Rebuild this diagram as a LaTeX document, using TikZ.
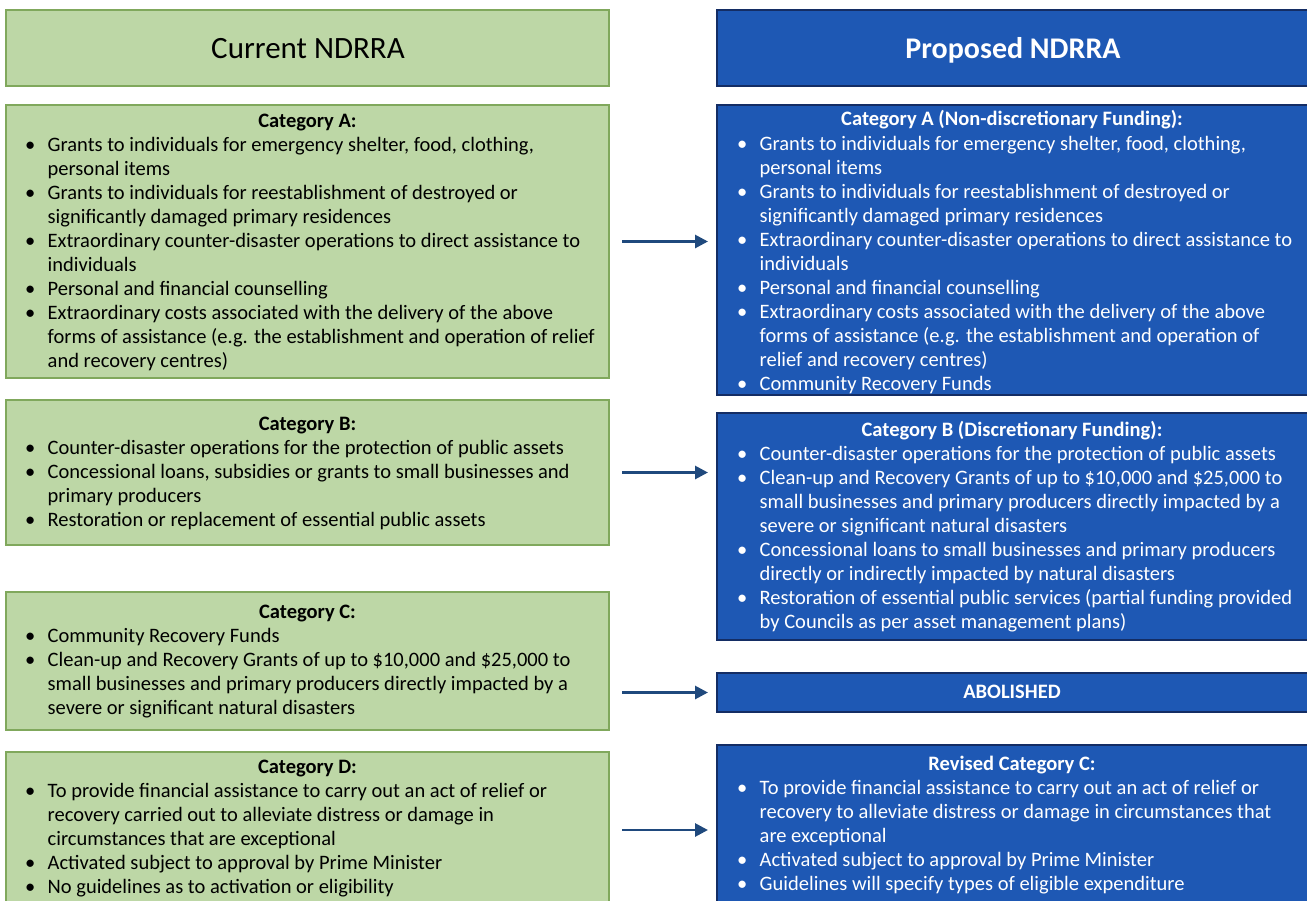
\documentclass[tikz,border=0pt]{standalone}
\usepackage{fontspec}
\setmainfont{Carlito}
\usetikzlibrary{arrows.meta}
\definecolor{greenfill}{RGB}{189,215,166}
\definecolor{greenedge}{RGB}{128,168,92}
\definecolor{bluefill}{RGB}{30,88,180}
\definecolor{blueedge}{RGB}{20,45,100}
\definecolor{arrowblue}{RGB}{31,73,125}
\newcommand\bl{\makebox[22.5pt][l]{\textbullet}}
\newcommand\catlist[1]{\begin{tabular}[t]{@{}l@{}l@{}}#1\end{tabular}}
\tikzset{
  gbox/.style={draw=greenedge, line width=1.6pt, fill=greenfill, inner sep=0pt, outer sep=0pt, anchor=north west},
  bbox/.style={draw=blueedge, line width=1.6pt, fill=bluefill, inner sep=0pt, outer sep=0pt, anchor=north west},
  body/.style={inner sep=0pt, font=\fontsize{20.5}{24}\selectfont, anchor=base west},
  head/.style={inner sep=0pt, font=\fontsize{20.5}{24}\selectfont\bfseries, anchor=base},
  title/.style={inner sep=0pt, font=\fontsize{31}{34}\selectfont, anchor=base},
  boldtitle/.style={inner sep=0pt, font=\fontsize{30}{34}\selectfont\bfseries, anchor=base},
  arr/.style={arrowblue, line width=2.8pt, -{Triangle[length=13pt,width=13pt]}, shorten <=13pt, shorten >=9pt},
}
\begin{document}
\begin{tikzpicture}[x=1pt,y=-1pt]
\useasboundingbox (0,0) rectangle (1307,900);
\clip (0,0) rectangle (1307,900);
\fill[white] (0,0) rectangle (1307,900);

% column headers
\node[gbox, minimum width=603pt, minimum height=76pt] (lh) at (6,10) {};
\node[bbox, minimum width=596pt, minimum height=76pt] (rh) at (717,10) {};
\node[title] (lht) at (308,58) {Current NDRRA};
\node[boldtitle, text=white] (rht) at (1013,58) {Proposed NDRRA};

% current arrangements
\node[gbox, minimum width=603pt, minimum height=273pt] (lA) at (6,105) {};
\node[gbox, minimum width=603pt, minimum height=145pt] (lB) at (6,400) {};
\node[gbox, minimum width=603pt, minimum height=138pt] (lC) at (6,592) {};
\node[gbox, minimum width=603pt, minimum height=156pt] (lD) at (6,752) {};

% proposed arrangements
\node[bbox, minimum width=596pt, minimum height=290pt] (rA) at (717,105) {};
\node[bbox, minimum width=596pt, minimum height=227pt] (rB) at (717,413) {};
\node[bbox, minimum width=596pt, minimum height=39pt] (ab) at (717,673) {};
\node[bbox, minimum width=596pt, minimum height=170pt] (rC) at (717,745) {};

% Category A (current)
\node[head] (lAh) at (307.5,127) {Category A:};
\node[body] (lAt) at (25,151) {\catlist{
\bl & Grants to individuals for emergency shelter, food, clothing,\\
 & personal items\\
\bl & Grants to individuals for reestablishment of destroyed or\\
 & significantly damaged primary residences\\
\bl & Extraordinary counter-disaster operations to direct assistance to\\
 & individuals\\
\bl & Personal and financial counselling\\
\bl & Extraordinary costs associated with the delivery of the above\\
 & forms of assistance (e.g. the establishment and operation of relief\\
 & and recovery centres)}};

% Category B (current)
\node[head] (lBh) at (307.5,430) {Category B:};
\node[body] (lBt) at (25,454) {\catlist{
\bl & Counter-disaster operations for the protection of public assets\\
\bl & Concessional loans, subsidies or grants to small businesses and\\
 & primary producers\\
\bl & Restoration or replacement of essential public assets}};

% Category C (current)
\node[head] (lCh) at (307.5,618) {Category C:};
\node[body] (lCt) at (25,642) {\catlist{
\bl & Community Recovery Funds\\
\bl & Clean-up and Recovery Grants of up to \$10,000 and \$25,000 to\\
 & small businesses and primary producers directly impacted by a\\
 & severe or significant natural disasters}};

% Category D (current)
\node[head] (lDh) at (307.5,773) {Category D:};
\node[body] (lDt) at (25,797) {\catlist{
\bl & To provide financial assistance to carry out an act of relief or\\
 & recovery carried out to alleviate distress or damage in\\
 & circumstances that are exceptional\\
\bl & Activated subject to approval by Prime Minister\\
\bl & No guidelines as to activation or eligibility}};

% Category A (proposed)
\node[head, text=white] (rAh) at (1012,125) {Category A (Non-discretionary Funding):};
\node[body, text=white] (rAt) at (737,150) {\catlist{
\bl & Grants to individuals for emergency shelter, food, clothing,\\
 & personal items\\
\bl & Grants to individuals for reestablishment of destroyed or\\
 & significantly damaged primary residences\\
\bl & Extraordinary counter-disaster operations to direct assistance to\\
 & individuals\\
\bl & Personal and financial counselling\\
\bl & Extraordinary costs associated with the delivery of the above\\
 & forms of assistance (e.g. the establishment and operation of\\
 & relief and recovery centres)\\
\bl & Community Recovery Funds}};

% Category B (proposed)
\node[head, text=white] (rBh) at (1012,436) {Category B (Discretionary Funding):};
\node[body, text=white] (rBt) at (737,460) {\catlist{
\bl & Counter-disaster operations for the protection of public assets\\
\bl & Clean-up and Recovery Grants of up to \$10,000 and \$25,000 to\\
 & small businesses and primary producers directly impacted by a\\
 & severe or significant natural disasters\\
\bl & Concessional loans to small businesses and primary producers\\
 & directly or indirectly impacted by natural disasters\\
\bl & Restoration of essential public services (partial funding provided\\
 & by Councils as per asset management plans)}};

% Category C (proposed)
\node[head, text=white] (abt) at (1012,698.5) {ABOLISHED};

% Revised Category C
\node[head, text=white] (rCh) at (1012,770) {Revised Category C:};
\node[body, text=white] (rCt) at (737,794) {\catlist{
\bl & To provide financial assistance to carry out an act of relief or\\
 & recovery to alleviate distress or damage in circumstances that\\
 & are exceptional\\
\bl & Activated subject to approval by Prime Minister\\
\bl & Guidelines will specify types of eligible expenditure}};

% transitions
\draw[arr] (lA.east) -- (lA.east -| rA.west);
\draw[arr] (lB.east) -- (lB.east -| rB.west);
\draw[arr] (lC.east |- ab.west) -- (ab.west);
\draw[arr] (lD.east) -- (lD.east -| rC.west);
\end{tikzpicture}
\end{document}
